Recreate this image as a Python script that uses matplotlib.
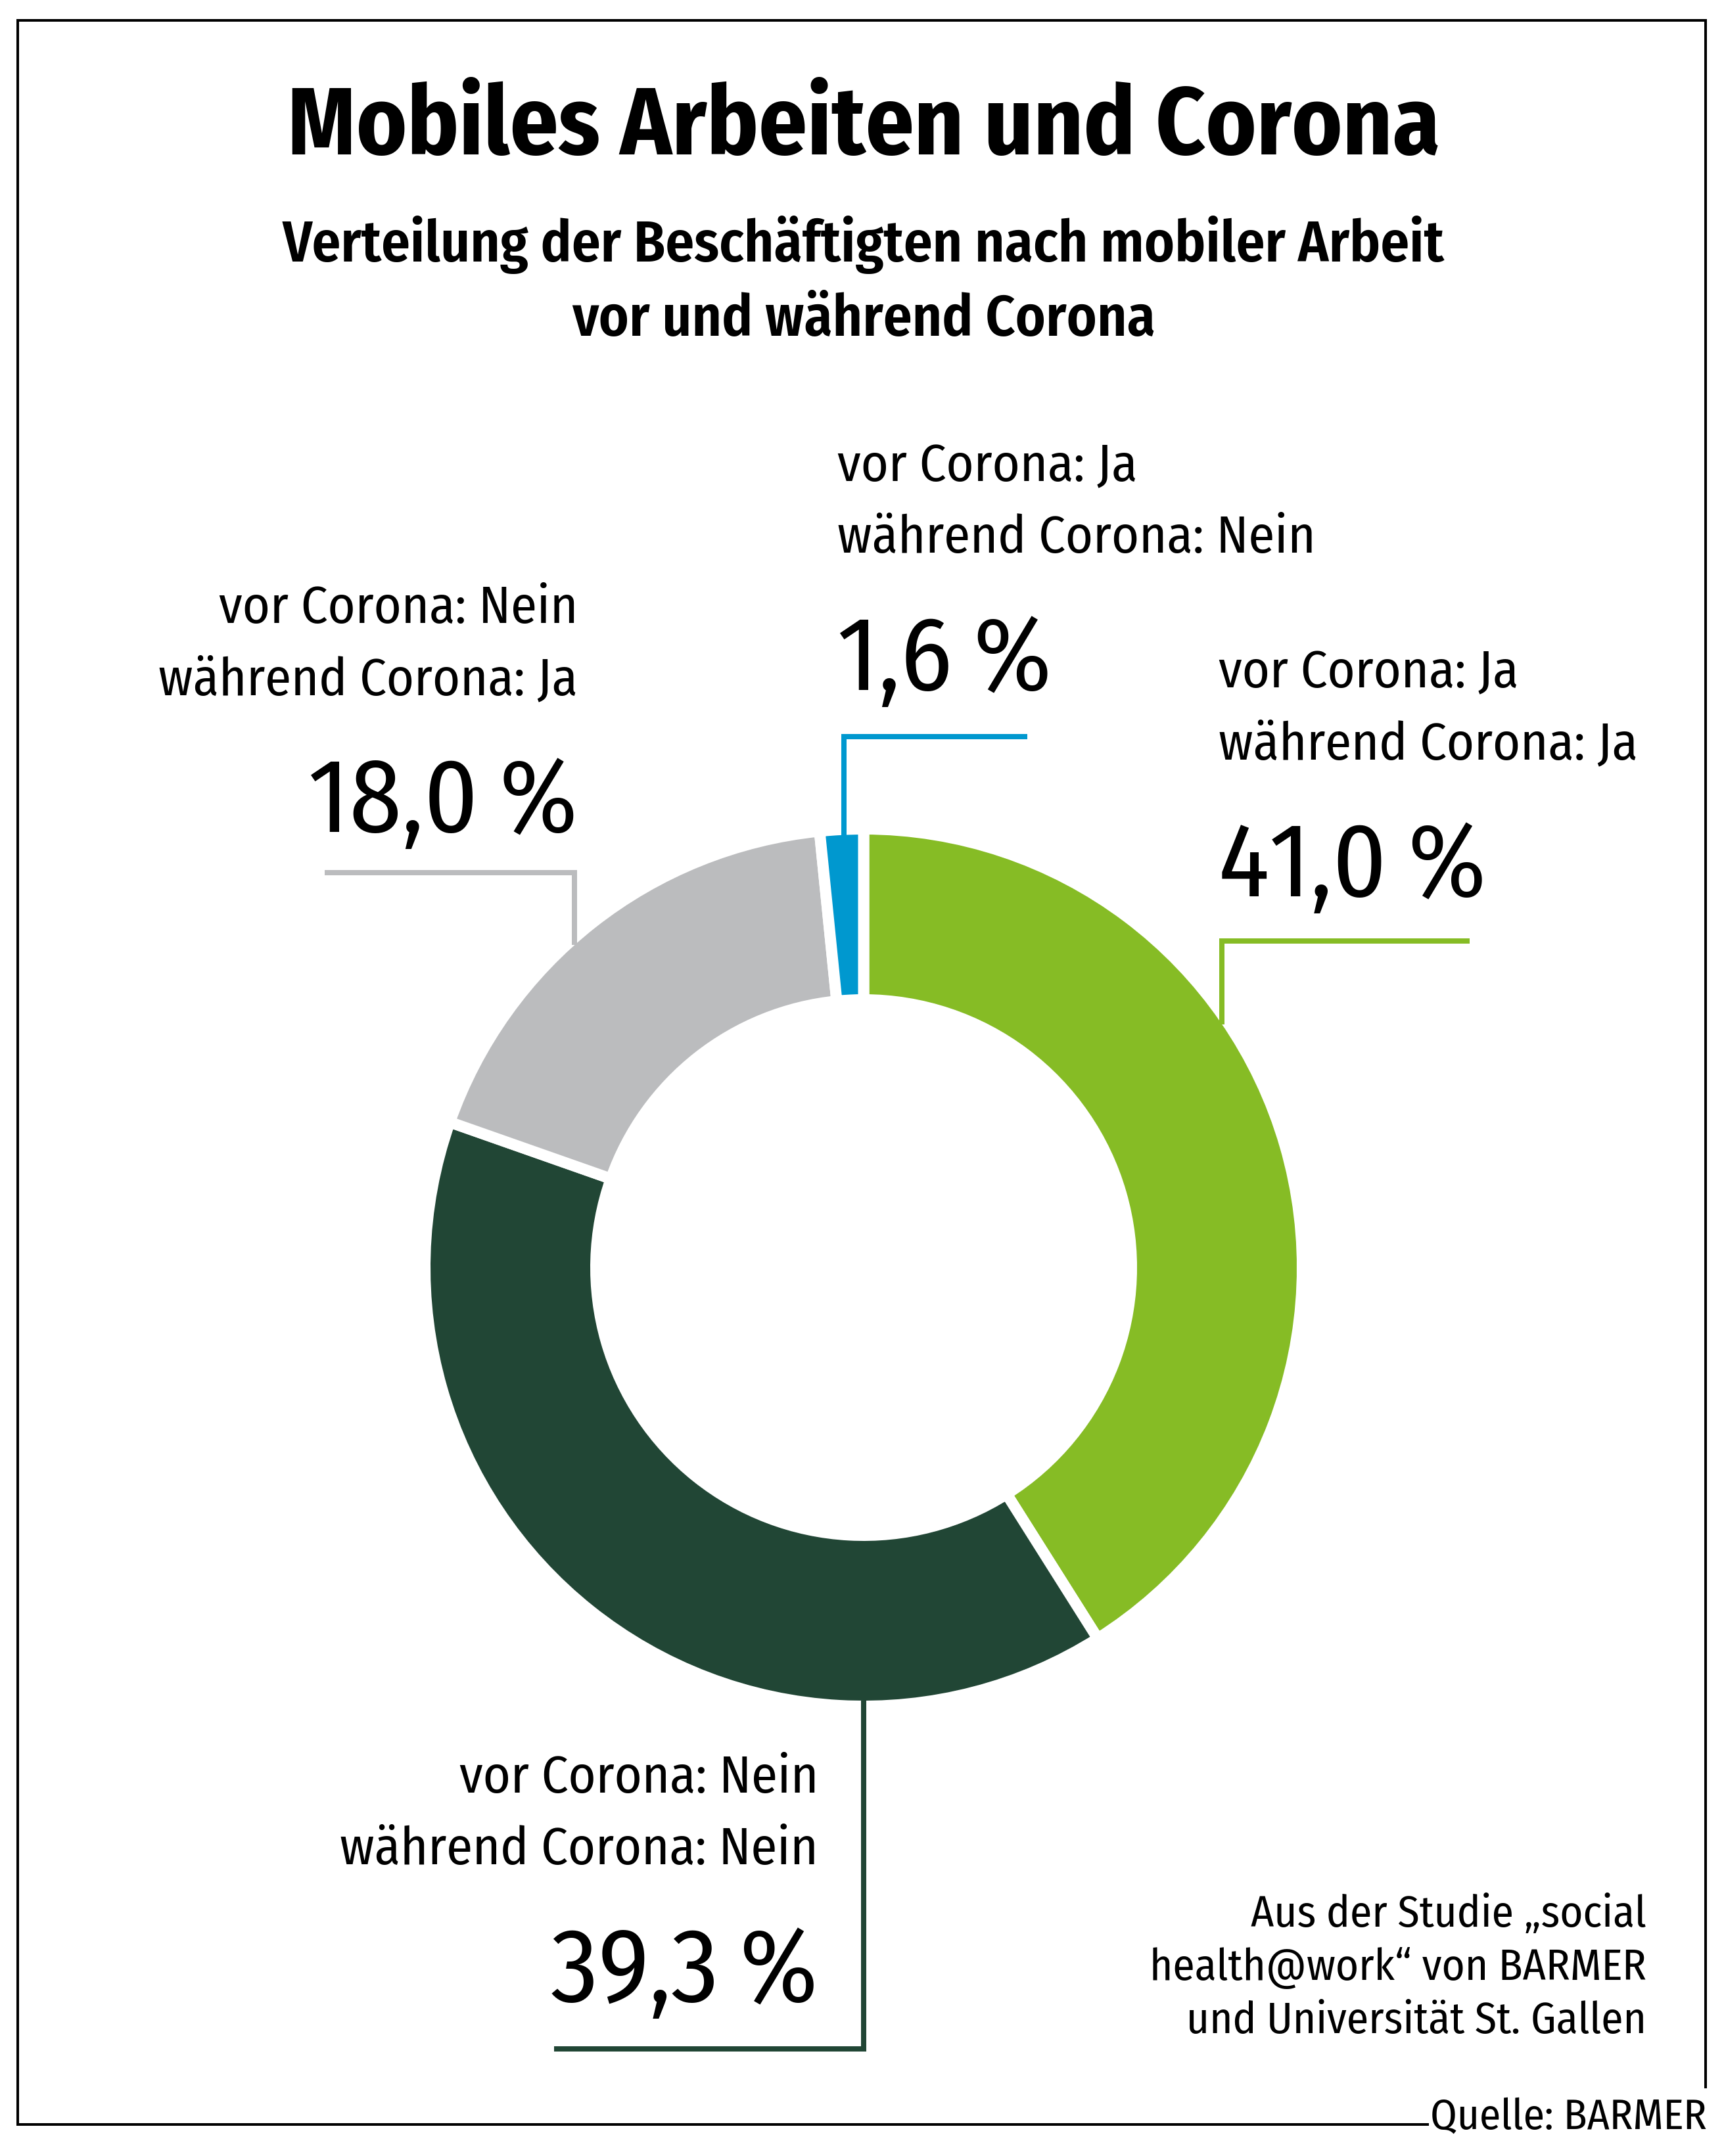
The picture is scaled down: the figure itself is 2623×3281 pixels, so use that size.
import numpy as np
import matplotlib
matplotlib.use("Agg")
import matplotlib.pyplot as plt
from matplotlib import font_manager

# Daten
vor_corona = ["Ja", "Nein", "Nein", "Ja"]
waehrend_corona = ["Ja", "Nein", "Ja", "Nein"]
anteile = [41.0, 39.3, 18.0, 1.6]
farben = ["#86bc25", "#214635", "#bbbcbe", "#0098cf"]

titel = "Mobiles Arbeiten und Corona"
untertitel = ["Verteilung der Beschäftigten nach mobiler Arbeit", "vor und während Corona"]
studie = ["Aus der Studie \u201esocial", "health@work\u201c von BARMER", "und Universität St. Gallen"]
quelle = "Quelle: BARMER"

# Schrift wählen
namen = {f.name for f in font_manager.fontManager.ttflist}
schrift = "DejaVu Sans"
for n in ["Fira Sans Condensed", "Roboto Condensed", "Roboto"]:
    if n in namen:
        schrift = n
        break
plt.rcParams["font.family"] = [schrift, "DejaVu Sans"]

W, H = 2623, 3281
fig = plt.figure(figsize=(W / 100, H / 100), dpi=100)
ax = fig.add_axes([0, 0, 1, 1])
renderer = fig.canvas.get_renderer()

px = 72 / 100  # Pixel -> Punkt

# Ring
cx, cy, R, r = 1314, 1929, 659, 416
spalt = 17  # Pixel
ax.pie(anteile, colors=farben, startangle=-90, counterclock=True,
       center=(cx, cy), radius=R + spalt / 2,
       wedgeprops=dict(width=R - r + spalt, edgecolor="white", linewidth=spalt * px))
ax.set_xlim(0, W)
ax.set_ylim(H, 0)
ax.set_aspect("equal")
ax.axis("off")


def passe(text, breite, **kw):
    t = ax.text(0, 0, text, fontsize=100, **kw)
    w = t.get_window_extent(renderer).width
    t.remove()
    return 100 * breite / w


def ring_oben(x):
    return cy - np.sqrt(R ** 2 - (x - cx) ** 2)


def prozent(v):
    return f"{v:.1f}".replace(".", ",") + "\u2009%"


fs_titel = passe(titel, 1753, fontweight="bold")
fs_unter = passe(untertitel[0], 1768, fontweight="semibold")
fs_label = passe("während Corona: Nein", 728)
fs_zahl = passe(prozent(41.0), 408)
fs_studie = passe(studie[1], 756)
fs_quelle = passe(quelle, 421)

ax.text(cx, 235, titel, fontsize=fs_titel, fontweight="bold", ha="center", va="baseline")
ax.text(cx, 398, untertitel[0], fontsize=fs_unter, fontweight="semibold", ha="center", va="baseline")
ax.text(cx, 511, untertitel[1], fontsize=fs_unter, fontweight="semibold", ha="center", va="baseline")

# Beschriftungen: (x, Grundlinie Zeile 1, Ausrichtung, Linienpunkte)
layout = [
    (1854, 1046, "left", [(2236, 1432), (1859, 1432), (1859, ring_oben(1859))]),
    (1245, 2728, "right", [(cx, cy + R), (cx, 3118), (843, 3118)]),
    (879, 948, "right", [(494, 1328), (874, 1328), (874, ring_oben(874))]),
    (1274, 732, "left", [(1563, 1121), (1284, 1121), (1284, ring_oben(1284))]),
]

for i, (x, y, ha, pts) in enumerate(layout):
    ax.text(x, y, "vor Corona: " + vor_corona[i], fontsize=fs_label, ha=ha, va="baseline")
    ax.text(x, y + 109, "während Corona: " + waehrend_corona[i], fontsize=fs_label,
            ha=ha, va="baseline")
    ax.text(x, y + 318, prozent(anteile[i]), fontsize=fs_zahl, ha=ha, va="baseline")
    xs, ys = zip(*pts)
    ax.plot(xs, ys, color=farben[i], lw=8 * px, solid_capstyle="butt", solid_joinstyle="miter")

for j, zeile in enumerate(studie):
    ax.text(2505, 2932 + 81 * j, zeile, fontsize=fs_studie, ha="right", va="baseline")

ax.text(2597, 3240, quelle, fontsize=fs_quelle, ha="right", va="baseline")

# Rahmen
ax.plot([2174, 27, 27, 2595, 2595], [3233, 3233, 31, 31, 3178], color="black", lw=4 * px,
        solid_joinstyle="miter", solid_capstyle="butt")

fig.savefig("out.png", dpi=100)
